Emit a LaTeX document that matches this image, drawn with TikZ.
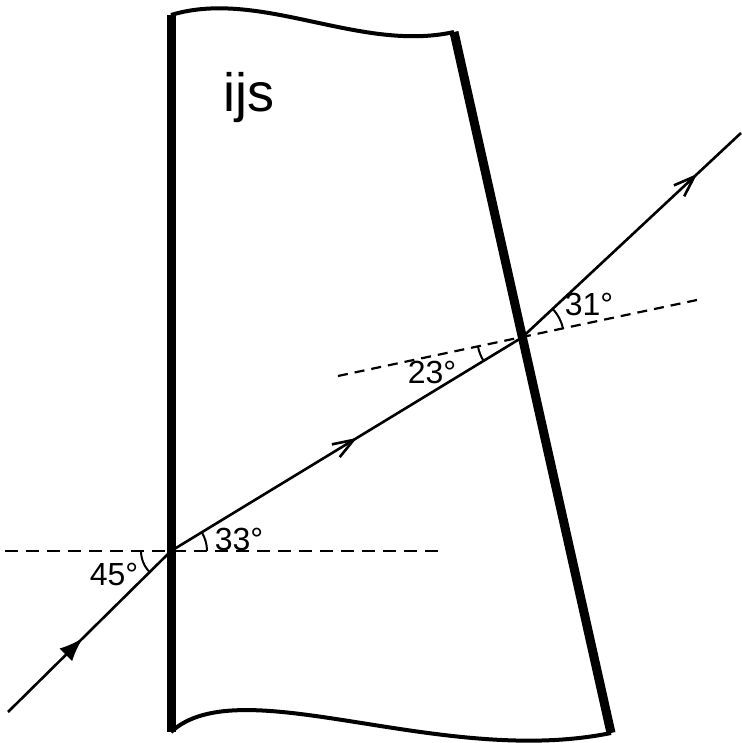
\documentclass[tikz,border=0pt]{standalone}
\usepackage{fontspec}
\setmainfont{Liberation Sans}
\usetikzlibrary{arrows.meta,decorations.markings}
\begin{document}
\begin{tikzpicture}[x=1pt, y=1pt,
    face/.style={line width=9pt},
    cut/.style={line width=4pt},
    ray/.style={line width=2.6pt},
    normal/.style={line width=2.2pt, dash pattern=on 13pt off 8pt},
    anglearc/.style={line width=2pt},
    lbl/.style={font=\fontsize{32}{32}\selectfont, inner sep=0pt},
    fillarrow/.style={postaction={decorate}, decoration={markings,
        mark=at position #1 with {\arrow{Latex[length=24pt,width=18pt]}}}},
    openarrow/.style={postaction={decorate}, decoration={markings,
        mark=at position #1 with {\arrow{Straight Barb[length=21pt,width=15pt]}}}},
  ]
  \useasboundingbox (0,0) rectangle (741,743);
  % block of ice
  \draw[face] (171,11) -- (171,728);
  \draw[face] (454,711) -- (611,10);
  \draw[cut] (171,728) .. controls (260,755) and (360,690) .. (454,711);
  \draw[cut] (171,11) .. controls (240,75) and (440,-25) .. (611,10);
  \node[font=\fontsize{54}{54}\selectfont, anchor=base west, inner sep=0pt] (ice) at (223,631) {ijs};
  % points of incidence and normals
  \coordinate (P)   at (171,192);
  \coordinate (Q)   at (522,405.5);
  \coordinate (src) at (8,31);
  \coordinate (out) at (741,610);
  \coordinate (nPl) at (5,192);
  \coordinate (nPr) at (440,192);
  \coordinate (nQl) at (338,367);
  \coordinate (nQr) at (697,443);
  \draw[normal] (nPl) -- (nPr);
  \draw[normal, dash pattern=on 10pt off 7pt] (nQl) -- (nQr);
  % light ray
  \draw[ray, fillarrow=0.46] (src) -- (P);
  \draw[ray, openarrow=0.53] (P) -- (Q);
  \draw[ray, openarrow=0.8]  (Q) -- (out);
  % angles
  \draw[anglearc] (P) ++(180:30) arc[start angle=180, end angle=225, radius=30];
  \draw[anglearc] (P) ++(0:36) arc[start angle=0, end angle=31.3, radius=36];
  \draw[anglearc] (Q) ++(191.95:45) arc[start angle=191.95, end angle=211.3, radius=45];
  \draw[anglearc] (Q) ++(11.95:42) arc[start angle=11.95, end angle=43, radius=42];
  \node[lbl] (a45) at (114,169) {45°};
  \node[lbl] (a33) at (239,204) {33°};
  \node[lbl] (a23) at (432,371) {23°};
  \node[lbl] (a31) at (589,439) {31°};
\end{tikzpicture}
\end{document}
